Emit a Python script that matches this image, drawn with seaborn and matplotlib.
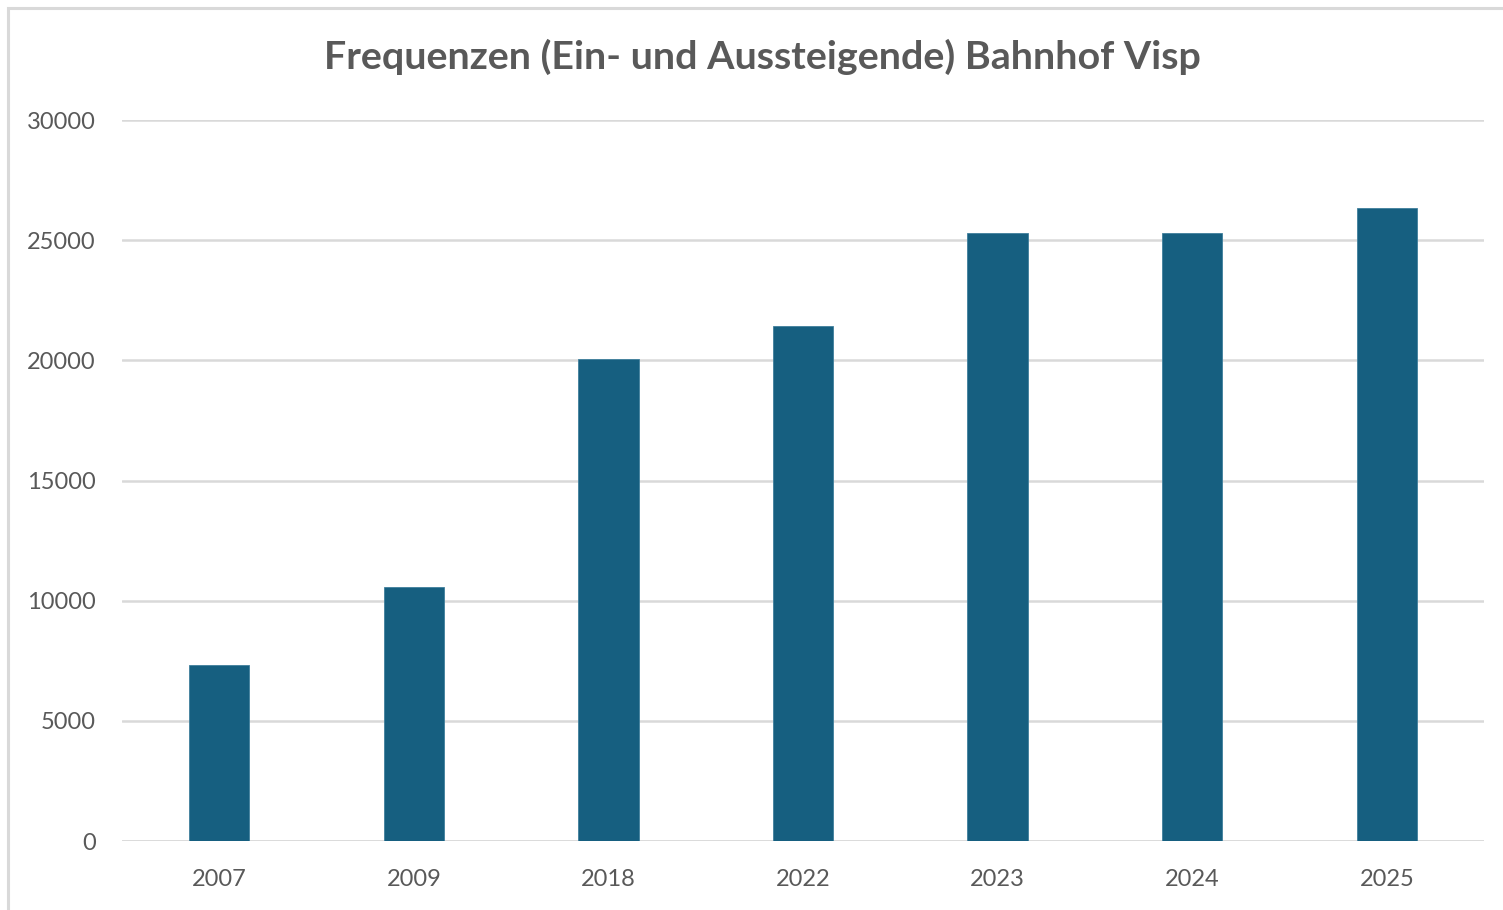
import matplotlib
matplotlib.use('Agg')
import matplotlib.pyplot as plt
import seaborn as sns
import pandas as pd
from matplotlib.patches import Rectangle

# data
YEARS = ['2007', '2009', '2018', '2022', '2023', '2024', '2025']
FREQUENZEN = [7330, 10560, 20050, 21450, 25300, 25300, 26330]
Y_TICKS = [0, 5000, 10000, 15000, 20000, 25000, 30000]

TITLE = 'Frequenzen (Ein- und Aussteigende) Bahnhof Visp'
BAR_COLOR = '#165f80'
TEXT_COLOR = '#595959'
GRID_COLOR = '#d9d9d9'

sns.set_theme(style='white')
plt.rcParams['font.family'] = ['Lato', 'DejaVu Sans']

df = pd.DataFrame({'Jahr': YEARS, 'Frequenzen': FREQUENZEN})

fig = plt.figure(figsize=(15.03, 9.10), dpi=100)
ax = fig.add_axes([0.0812, 0.0758, 0.9062, 0.7923])

sns.barplot(data=df, x='Jahr', y='Frequenzen', color=BAR_COLOR,
            width=0.31, saturation=1, ax=ax, zorder=3,
            edgecolor='#3f7f9c', linewidth=0.6)

ax.set_xlim(-0.5, len(YEARS) - 0.5)
ax.set_ylim(0, 30000)
ax.set_yticks(Y_TICKS)
ax.set_yticklabels([str(t) for t in Y_TICKS])
ax.yaxis.grid(True, color=GRID_COLOR, linewidth=1.8, zorder=0)
ax.set_axisbelow(True)
ax.set_xlabel('')
ax.set_ylabel('')
for side in ['top', 'right', 'left', 'bottom']:
    ax.spines[side].set_visible(False)
ax.axhline(0, color=GRID_COLOR, linewidth=1.8, zorder=1)

ax.tick_params(axis='y', length=0, pad=19, labelsize=17, labelcolor=TEXT_COLOR)
ax.tick_params(axis='x', length=0, pad=20, labelsize=17, labelcolor=TEXT_COLOR)

fig.text(0.507, 0.937, TITLE, ha='center', va='center', fontsize=28.4,
         fontweight='bold', color=TEXT_COLOR)

# light frame around the chart area (Excel style)
fig.patches.append(Rectangle((8 / 1503, -0.05), 1.2, 1 - 8 / 910 + 0.05,
                             transform=fig.transFigure, fill=False,
                             edgecolor=GRID_COLOR, linewidth=2.2))

fig.savefig('out.png', dpi=100)
